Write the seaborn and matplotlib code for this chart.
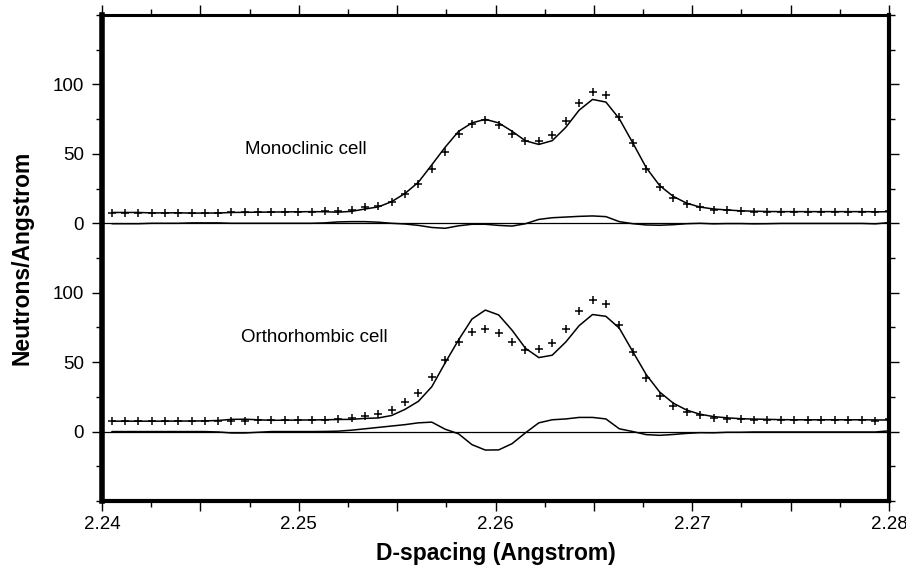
import matplotlib
matplotlib.use("Agg")
import matplotlib.pyplot as plt
import seaborn as sns
import pandas as pd
from matplotlib.ticker import FixedLocator, NullFormatter

# ---------------- data ----------------
d_spacing = [2.24050, 2.24118, 2.24185, 2.24253, 2.24320, 2.24388, 2.24455, 2.24523,
             2.24591, 2.24658, 2.24726, 2.24794, 2.24861, 2.24929, 2.24997, 2.25065,
             2.25133, 2.25200, 2.25268, 2.25336, 2.25404, 2.25472, 2.25540, 2.25608,
             2.25676, 2.25744, 2.25812, 2.25880, 2.25948, 2.26016, 2.26084, 2.26152,
             2.26220, 2.26288, 2.26357, 2.26425, 2.26493, 2.26561, 2.26629, 2.26698,
             2.26766, 2.26834, 2.26903, 2.26971, 2.27039, 2.27108, 2.27176, 2.27245,
             2.27313, 2.27382, 2.27450, 2.27519, 2.27587, 2.27656, 2.27724, 2.27793,
             2.27861, 2.27930, 2.27999]

observed = [7.5, 7.5, 7.5, 7.5, 7.5, 7.6, 7.6, 7.7, 7.7, 7.8, 7.9, 8.0, 8.1, 8.2, 8.3,
            8.4, 8.6, 9.0, 9.8, 11.5, 12.6, 15.6, 21.0, 28.1, 39.1, 51.2, 64.4, 71.6,
            74.2, 70.8, 64.3, 59.1, 59.6, 63.5, 73.6, 86.5, 94.5, 92.1, 76.5, 57.5,
            38.8, 25.8, 18.4, 14.2, 11.7, 9.9, 9.4, 8.8, 8.0, 8.2, 8.3, 8.3, 8.3, 8.3,
            8.3, 8.3, 8.3, 7.9, 8.8]

calc_monoclinic = [7.8, 7.8, 7.8, 7.5, 7.5, 7.6, 7.3, 7.4, 7.4, 7.8, 7.9, 8.0, 8.1, 8.2,
                   8.3, 8.4, 8.3, 8.0, 8.6, 10.3, 11.8, 15.6, 21.5, 29.6, 42.1, 54.8,
                   66.2, 72.3, 74.9, 72.3, 66.3, 59.4, 56.8, 59.5, 69.1, 81.5, 89.2,
                   87.3, 75.3, 57.8, 40.0, 27.2, 19.4, 14.5, 11.7, 10.3, 9.6, 9.0, 8.7,
                   8.5, 8.4, 8.4, 8.4, 8.4, 8.4, 8.4, 8.4, 8.3, 8.3]

diff_monoclinic = [-0.3, -0.3, -0.3, 0.0, 0.0, 0.0, 0.3, 0.3, 0.3, 0.0, 0.0, 0.0, 0.0,
                   0.0, 0.0, 0.0, 0.3, 1.0, 1.2, 1.2, 0.8, 0.0, -0.5, -1.5, -3.0, -3.6,
                   -1.8, -0.7, -0.7, -1.5, -2.0, -0.3, 2.8, 4.0, 4.5, 5.0, 5.3, 4.8,
                   1.2, -0.3, -1.2, -1.4, -1.0, -0.3, 0.0, -0.4, -0.2, -0.2, -0.4, -0.3,
                   -0.1, -0.1, -0.1, -0.1, -0.1, -0.1, -0.1, -0.4, 0.5]

calc_orthorhombic = [7.5, 7.5, 7.5, 7.5, 7.5, 7.6, 7.6, 7.7, 8.0, 8.8, 8.9, 8.5, 8.1,
                     8.2, 8.3, 8.4, 8.5, 8.7, 8.8, 9.5, 9.8, 11.6, 16.0, 21.8, 32.3,
                     49.5, 66.0, 81.0, 87.5, 84.0, 73.0, 60.0, 53.3, 55.0, 64.5, 76.3,
                     84.3, 83.0, 74.5, 57.5, 41.0, 28.5, 20.5, 15.5, 12.5, 10.8, 9.9,
                     9.3, 9.0, 8.8, 8.6, 8.5, 8.5, 8.5, 8.5, 8.5, 8.5, 8.4, 8.3]

diff_orthorhombic = [0.0, 0.0, 0.0, 0.0, 0.0, 0.0, 0.0, 0.0, -0.3, -1.0, -1.0, -0.5,
                     0.0, 0.0, 0.0, 0.0, 0.1, 0.3, 1.0, 2.0, 3.0, 4.0, 5.0, 6.3, 6.8,
                     1.7, -1.6, -9.4, -13.3, -13.2, -8.7, -0.9, 6.3, 8.5, 9.1, 10.2,
                     10.2, 9.1, 2.0, 0.0, -2.2, -2.7, -2.1, -1.3, -0.8, -0.9, -0.5,
                     -0.5, -0.3, -0.3, -0.3, -0.3, -0.3, -0.3, -0.3, -0.3, -0.3, -0.3, 0.5]

panel_labels = ["Monoclinic cell", "Orthorhombic cell"]
x_tick_labels = ["2.24", "", "2.25", "", "2.26", "", "2.27", "", "2.28"]
y_tick_labels = ["0", "50", "100", "0", "50", "100"]

# ---------------- layout / style ----------------
OFFSET = 150  # vertical offset of the upper (monoclinic) panel

sns.set_theme(style="ticks")
plt.rcParams["font.family"] = ["Liberation Sans", "DejaVu Sans"]
plt.rcParams.update({"text.color": "black", "axes.labelcolor": "black",
                     "xtick.color": "black", "ytick.color": "black",
                     "xtick.labelcolor": "black", "ytick.labelcolor": "black"})

fig = plt.figure(figsize=(9.06, 5.69), dpi=100)
ax = fig.add_axes([0.1126, 0.1195, 0.8687, 0.8541])

top = pd.DataFrame({"d": d_spacing,
                    "obs": [v + OFFSET for v in observed],
                    "calc": [v + OFFSET for v in calc_monoclinic],
                    "diff": [v + OFFSET for v in diff_monoclinic]})
bot = pd.DataFrame({"d": d_spacing, "obs": observed,
                    "calc": calc_orthorhombic, "diff": diff_orthorhombic})

ax.axhline(0, color="black", lw=0.9, zorder=1)
ax.axhline(OFFSET, color="black", lw=0.9, zorder=1)

for df in (top, bot):
    sns.lineplot(data=df, x="d", y="calc", color="black", lw=1.1, ax=ax,
                 sort=False, estimator=None)
    sns.lineplot(data=df, x="d", y="diff", color="black", lw=1.1, ax=ax,
                 sort=False, estimator=None)
    sns.scatterplot(data=df, x="d", y="obs", marker="+", color="black",
                    s=28, linewidth=1.1, ax=ax, zorder=3)

ax.text(2.24726, 53 + OFFSET, panel_labels[0], fontsize=13.5, va="center",
        ha="left", color="black")
ax.text(2.24706, 68, panel_labels[1], fontsize=13.5, va="center",
        ha="left", color="black")

ax.set_xlim(2.24, 2.28)
ax.set_ylim(-50, 300)

xmaj = [2.24 + 0.005 * k for k in range(9)]
ax.xaxis.set_major_locator(FixedLocator(xmaj))
ax.set_xticklabels(x_tick_labels)
ax.xaxis.set_minor_locator(FixedLocator([2.24 + 0.0025 * k for k in range(17)]))
ax.yaxis.set_major_locator(FixedLocator([0, 50, 100, 150, 200, 250]))
ax.set_yticklabels(y_tick_labels)
ax.yaxis.set_minor_locator(FixedLocator([-50 + 25 * k for k in range(15)]))
ax.yaxis.set_minor_formatter(NullFormatter())
ax.xaxis.set_minor_formatter(NullFormatter())

ax.tick_params(which="both", direction="out", top=True, right=True,
               color="black", labelcolor="black", width=1.0, labelsize=13.5)
ax.tick_params(axis="x", pad=4)
ax.tick_params(axis="y", pad=6)
ax.tick_params(which="major", length=7)
ax.tick_params(which="minor", length=4)

for side, lw in (("left", 4.0), ("bottom", 3.0), ("top", 2.2), ("right", 3.0)):
    ax.spines[side].set_linewidth(lw)
    ax.spines[side].set_color("black")
    ax.spines[side].set_visible(True)

ax.set_xlabel("D-spacing (Angstrom)", fontsize=16.5, fontweight="bold",
              labelpad=6, color="black")
ax.set_ylabel("Neutrons/Angstrom", fontsize=16.5, fontweight="bold",
              labelpad=14, color="black")

fig.savefig("out.png", dpi=100)
